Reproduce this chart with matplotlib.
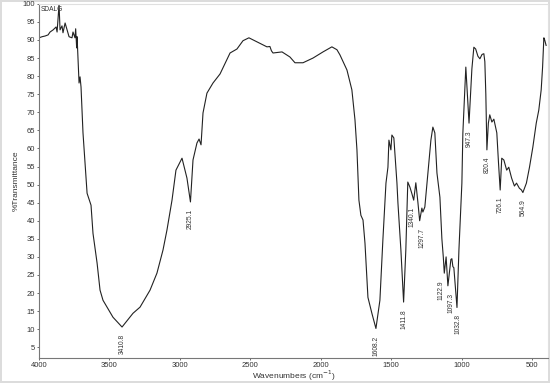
import numpy as np
import matplotlib
matplotlib.use("Agg")
import matplotlib.pyplot as plt

# FTIR spectrum of sample SDALG
wavenumber = [4000, 3979, 3957, 3936, 3922, 3900, 3879, 3872, 3858, 3851,
              3837, 3830, 3815, 3801, 3787, 3766, 3759, 3745, 3740, 3733,
              3730, 3716, 3709, 3702, 3688, 3659, 3631, 3617, 3588, 3567,
              3546, 3475, 3410.8, 3333, 3283, 3212, 3163, 3120, 3092, 3056,
              3028, 2985, 2950, 2925.1, 2907, 2879, 2864, 2850, 2836, 2808,
              2765, 2715, 2644, 2595, 2552, 2510, 2453, 2382, 2361, 2350,
              2339, 2275, 2219, 2183, 2126, 2055, 1984, 1921, 1885, 1864,
              1814, 1779, 1757, 1743, 1729, 1715, 1700, 1686, 1665, 1637,
              1608.2, 1580, 1559, 1537, 1523, 1516, 1502, 1495, 1481, 1459,
              1452, 1431, 1411.8, 1396, 1382, 1367, 1353, 1340.1, 1325, 1310,
              1297.7, 1282, 1275, 1261, 1239, 1218, 1204, 1190, 1175, 1154,
              1140, 1130, 1122.9, 1110, 1097.3, 1083, 1076, 1069, 1062, 1055,
              1045, 1032.8, 1019, 998, 991, 977, 970, 947.3, 935, 927,
              913, 900, 884, 870, 855, 842, 835, 828, 820.4, 810,
              800, 785, 771, 750, 738, 726.1, 715, 700, 680, 665,
              645, 625, 610, 590, 575, 564.9, 540, 518, 494, 470,
              452, 435, 425, 416, 410, 400]
transmittance = [90.6, 90.9, 91.1, 91.4, 92.2, 92.8, 93.6, 92.2, 99.8, 92.8,
                 93.9, 92.0, 94.7, 92.8, 90.9, 90.6, 92.2, 90.6, 93.1, 87.8,
                 90.9, 78.1, 79.8, 77.0, 64.3, 47.6, 44.3, 36.5, 28.3, 20.8,
                 18.0, 13.3, 10.6, 14.4, 16.1, 20.8, 25.5, 31.9, 37.4, 45.7,
                 54.0, 57.3, 51.8, 45.2, 56.8, 61.5, 62.6, 61.0, 69.8, 75.3,
                 78.1, 80.6, 86.4, 87.5, 89.8, 90.6, 89.5, 88.1, 88.2, 87.0,
                 86.4, 86.7, 85.3, 83.7, 83.7, 85.0, 86.7, 88.1, 87.3, 85.9,
                 81.7, 76.2, 67.9, 59.6, 45.7, 41.5, 40.2, 33.8, 18.8, 14.4,
                 10.2, 18.0, 34.6, 50.4, 54.8, 62.3, 59.6, 63.7, 62.9, 50.4,
                 44.9, 31.9, 17.5, 31.9, 50.7, 49.3, 47.5, 45.7, 50.5, 45.0,
                 40.0, 43.5, 42.4, 43.8, 53.2, 62.3, 65.9, 64.3, 53.2, 46.5,
                 35.0, 30.0, 25.5, 30.0, 22.0, 27.0, 29.3, 29.5, 27.3, 27.0,
                 22.0, 16.0, 31.9, 50.4, 64.3, 76.0, 82.5, 67.0, 76.0, 82.0,
                 88.0, 87.5, 85.5, 84.8, 86.0, 86.2, 84.0, 75.0, 59.6, 67.0,
                 69.3, 67.3, 68.1, 64.3, 56.0, 48.5, 57.3, 56.8, 54.0, 54.8,
                 51.8, 49.6, 50.4, 49.0, 48.5, 47.8, 50.4, 54.8, 60.4, 67.0,
                 70.6, 76.2, 82.5, 90.6, 90.0, 88.5]

peak_labels = ["3410.8", "2925.1", "1608.2", "1411.8", "1340.1", "1297.7",
               "1122.9", "1097.3", "1032.8", "947.3", "820.4", "726.1", "564.9"]
# small sideways nudges (points) so neighbouring labels do not collide
label_nudge = {"1340.1": -1, "1297.7": 1.5, "1122.9": -2.5, "1097.3": 2.5, "1032.8": 1}

x_ticks = [4000, 3500, 3000, 2500, 2000, 1500, 1000, 500]
y_ticks = list(range(5, 101, 5))

plt.rcParams['font.family'] = ['Liberation Sans', 'DejaVu Sans']

fig = plt.figure(figsize=(5.5, 3.83), dpi=100)
fig.patch.set_edgecolor('#dcdcdc')
fig.patch.set_linewidth(1.5)
ax = fig.add_axes([0.071, 0.065, 0.925, 0.925])

ax.plot(wavenumber, transmittance, color='#222222', lw=0.8)

for lab in peak_labels:
    w = float(lab)
    t = transmittance[wavenumber.index(w)]
    ax.annotate(lab, xy=(w, t), xytext=(label_nudge.get(lab, 0), -5),
                textcoords='offset points', rotation=90, ha='center', va='top',
                fontsize=4.8, color='#333333')

ax.text(3985, 99.3, "SDALG", fontsize=4.8, color='#333333', va='top', ha='left')

ax.set_xlim(4000, 388)
ax.set_ylim(2, 100)
ax.set_xticks(x_ticks)
ax.set_yticks(y_ticks)
ax.tick_params(labelsize=5.5, length=1.5, width=0.5, colors='#333333', pad=1.5)
ax.set_xlabel("Wavenumbers (cm$^{-1}$)", fontsize=6, color='#333333')
ax.xaxis.set_label_coords(0.5, -0.03)
ax.set_ylabel("%Transmittance", fontsize=6, color='#333333', labelpad=2)

for side in ['top', 'right']:
    ax.spines[side].set_color('#e0e0e0')
    ax.spines[side].set_linewidth(0.8)
for side in ['left', 'bottom']:
    ax.spines[side].set_color('#777777')
    ax.spines[side].set_linewidth(0.8)

fig.savefig("out.png", dpi=100)
